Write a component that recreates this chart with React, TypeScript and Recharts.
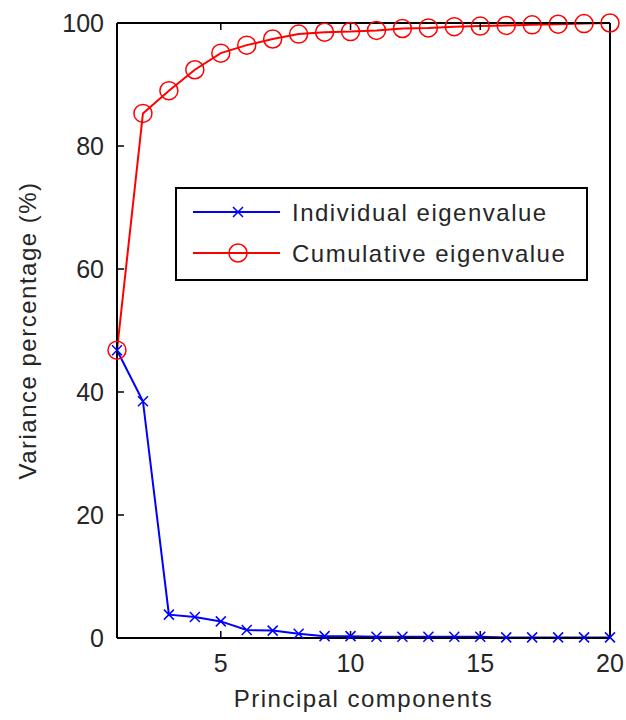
import { Legend, Line, LineChart, XAxis, YAxis } from 'recharts';

const components = [1, 2, 3, 4, 5, 6, 7, 8, 9, 10, 11, 12, 13, 14, 15, 16, 17, 18, 19, 20];
const individual = [46.8, 38.5, 3.8, 3.4, 2.7, 1.3, 1.2, 0.7, 0.3, 0.3, 0.2, 0.2, 0.2, 0.2, 0.2, 0.1, 0.1, 0.1, 0.1, 0.1];
const cumulative = [46.8, 85.3, 89.0, 92.4, 95.1, 96.4, 97.4, 98.2, 98.5, 98.6, 98.8, 99.1, 99.2, 99.4, 99.5, 99.6, 99.7, 99.8, 99.9, 100];
const xTicks = [5, 10, 15, 20];
const yTicks = [0, 20, 40, 60, 80, 100];

const data = components.map((c, i) => ({ pc: c, individual: individual[i], cumulative: cumulative[i] }));

const FONT = '"Liberation Sans", Arial, sans-serif';
const TEXT = '#262626';
const axisLine = { stroke: '#000', strokeWidth: 2 };
const tickLine = { stroke: '#000', strokeWidth: 1.5 };
const tickText = { fontSize: 25, fill: TEXT, fontFamily: FONT };
const blank = () => '';

function CrossDot({ cx, cy }: any) {
  if (cx == null || cy == null) return null;
  const s = 5;
  return (
    <path
      d={`M${cx - s},${cy - s}L${cx + s},${cy + s}M${cx - s},${cy + s}L${cx + s},${cy - s}`}
      stroke="#0000ff"
      strokeWidth={1.5}
      fill="none"
    />
  );
}

function CircleDot({ cx, cy }: any) {
  if (cx == null || cy == null) return null;
  return <circle cx={cx} cy={cy} r={9} stroke="#ff0000" strokeWidth={1.5} fill="none" />;
}

function LegendBox() {
  const txt = { fontSize: 24, fill: TEXT, fontFamily: FONT, letterSpacing: 1.5 };
  return (
    <svg width={413} height={94} style={{ display: 'block' }}>
      <rect x={1} y={1} width={411} height={92} fill="#fff" stroke="#000" strokeWidth={2} />
      <line x1={18} x2={105} y1={25} y2={25} stroke="#0000ff" strokeWidth={2} />
      <CrossDot cx={63} cy={25} />
      <text x={117} y={25} dominantBaseline="central" {...txt}>
        Individual eigenvalue
      </text>
      <line x1={18} x2={105} y1={66} y2={66} stroke="#ff0000" strokeWidth={2} />
      <CircleDot cx={63} cy={66} />
      <text x={117} y={66} dominantBaseline="central" {...txt}>
        Cumulative eigenvalue
      </text>
    </svg>
  );
}

export default function App() {
  return (
    <div style={{ position: 'absolute', left: 0, top: 0, width: 626, height: 720, background: '#fff' }}>
      <LineChart width={626} height={720} data={data} margin={{ top: 22, right: 15, left: 0, bottom: 0 }}>
        <XAxis
          dataKey="pc"
          type="number"
          domain={[1, 20]}
          ticks={xTicks}
          height={82}
          tickSize={-7}
          tickMargin={23}
          tickLine={tickLine}
          axisLine={axisLine}
          tick={tickText}
          label={{
            value: 'Principal components',
            position: 'insideBottom',
            offset: 13,
            fontSize: 24,
            fill: TEXT,
            fontFamily: FONT,
            letterSpacing: 1.5,
          }}
        />
        <XAxis
          xAxisId="top"
          orientation="top"
          dataKey="pc"
          type="number"
          domain={[1, 20]}
          ticks={xTicks}
          height={1}
          tickSize={-7}
          tickMargin={0}
          tickLine={tickLine}
          axisLine={axisLine}
          tickFormatter={blank}
        />
        <YAxis
          type="number"
          domain={[0, 100]}
          ticks={yTicks}
          width={117}
          tickSize={-7}
          tickMargin={20}
          tickLine={tickLine}
          axisLine={axisLine}
          tick={tickText}
          label={{
            content: ({ viewBox }: any) => {
              const cy = viewBox.y + viewBox.height / 2;
              return (
                <text
                  x={27}
                  y={cy}
                  transform={`rotate(-90, 27, ${cy})`}
                  textAnchor="middle"
                  dominantBaseline="central"
                  fontSize={24}
                  fill={TEXT}
                  fontFamily={FONT}
                  letterSpacing={1.5}
                >
                  Variance percentage (%)
                </text>
              );
            },
          }}
        />
        <YAxis
          yAxisId="right"
          orientation="right"
          type="number"
          domain={[0, 100]}
          ticks={yTicks}
          width={1}
          tickSize={-7}
          tickMargin={0}
          tickLine={tickLine}
          axisLine={axisLine}
          tickFormatter={blank}
        />
        <Legend
          layout="horizontal"
          verticalAlign="middle"
          align="center"
          content={() => <LegendBox />}
          wrapperStyle={{ position: 'absolute', left: 175, top: 187, width: 413, height: 94 }}
        />
        <Line
          dataKey="individual"
          stroke="#0000ff"
          strokeWidth={2}
          dot={<CrossDot />}
          activeDot={false}
          isAnimationActive={false}
        />
        <Line
          dataKey="cumulative"
          stroke="#ff0000"
          strokeWidth={2}
          dot={<CircleDot />}
          activeDot={false}
          isAnimationActive={false}
        />
      </LineChart>
    </div>
  );
}
